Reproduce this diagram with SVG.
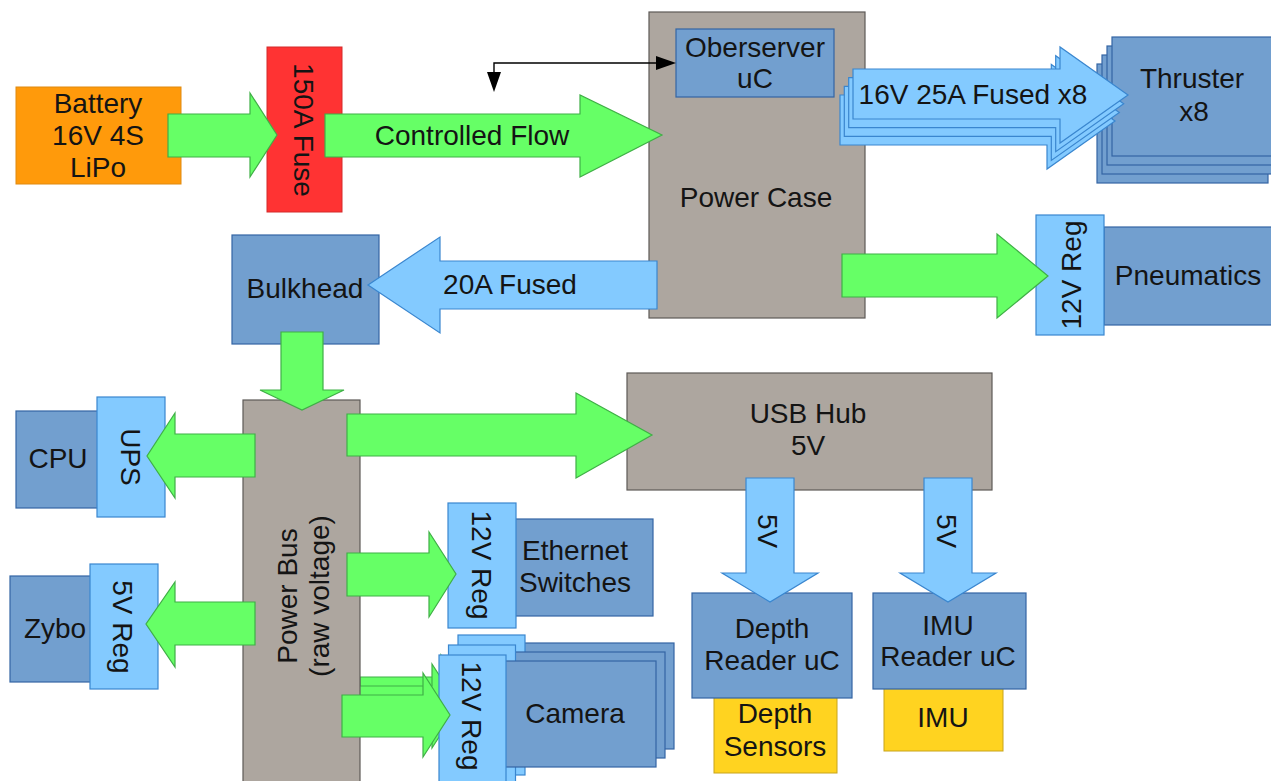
<svg xmlns="http://www.w3.org/2000/svg" width="1271" height="781" viewBox="0 0 1271 781">
<style>
text{font-family:"Liberation Sans",Arial,sans-serif;font-size:28px;fill:#141414;text-anchor:middle}
.db{fill:#729fcf;stroke:#3465a4;stroke-width:1.2}
.lb{fill:#83caff;stroke:#3a86cf;stroke-width:1.2}
.gy{fill:#ada69f;stroke:#5e5a57;stroke-width:1.2}
.gr{fill:#66ff66;stroke:#3faf46;stroke-width:1.2}
.ba{fill:#83caff;stroke:#3a86cf;stroke-width:1.2}
.ye{fill:#ffd320;stroke:#c8a41b;stroke-width:1}
</style>
<defs>
<marker id="ah" viewBox="0 0 20 14" refX="0" refY="7" markerWidth="20" markerHeight="14" markerUnits="userSpaceOnUse" orient="auto-start-reverse"><path d="M0,0 L20,7 L0,14 z" fill="#000"/></marker>
<polygon id="camArrow" points="342,695 423,695 423,673 450,715 423,757 423,737 342,737"/>
<polygon id="thrArrow" points="853,69 1060,69 1060,47 1128,95 1060,143 1060,119 853,119"/>
</defs>
<rect width="1271" height="781" fill="#fff"/>

<g id="connectors-back">
<use href="#camArrow" class="gr" transform="translate(18,-18)"/>
<use href="#camArrow" class="gr" transform="translate(9,-9)"/>
</g>

<g id="battery"><rect x="16" y="87" width="165" height="97" fill="#ff9a0b" stroke="#e08a10" stroke-width="1"/>
<text x="98" y="113">Battery</text><text x="98" y="145">16V 4S</text><text x="98" y="177">LiPo</text></g>

<g id="fuse"><rect x="267" y="47" width="75" height="165" fill="#ff3333" stroke="#d42a2a" stroke-width="1"/>
<text transform="translate(304,130) rotate(90)" y="10">150A Fuse</text></g>

<g id="power-case"><rect x="649" y="12" width="216" height="306" class="gy"/>
<text x="756" y="207">Power Case</text></g>

<g id="observer"><rect x="676" y="29" width="158" height="68" class="db"/>
<text x="755" y="57">Oberserver</text><text x="755" y="88">uC</text></g>

<g id="thruster">
<rect x="1097" y="64" width="171" height="119" class="db"/>
<rect x="1102" y="55" width="171" height="119" class="db"/>
<rect x="1107" y="46" width="171" height="119" class="db"/>
<rect x="1112" y="37" width="171" height="119" class="db"/>
<text x="1192" y="88">Thruster</text><text x="1194" y="121">x8</text></g>

<g id="pneumatics"><rect x="1104" y="227" width="180" height="98" class="db"/>
<text x="1188" y="285">Pneumatics</text></g>
<g id="pneumatics-reg"><rect x="1036" y="215" width="68" height="120" class="lb"/>
<text transform="translate(1071,275) rotate(-90)" y="10">12V Reg</text></g>

<g id="bulkhead"><rect x="232" y="235" width="147" height="109" class="db"/>
<text x="305" y="298">Bulkhead</text></g>

<g id="power-bus"><rect x="243" y="400" width="117" height="390" class="gy"/>
<text transform="translate(303,596) rotate(-90)" y="-6">Power Bus</text>
<text transform="translate(303,596) rotate(-90)" y="26">(raw voltage)</text></g>

<g id="cpu"><rect x="16" y="411" width="86" height="97" class="db"/>
<text x="58" y="468">CPU</text></g>
<g id="ups"><rect x="97" y="397" width="68" height="120" class="lb"/>
<text transform="translate(131,457) rotate(90)" y="10">UPS</text></g>

<g id="zybo"><rect x="10" y="576" width="84" height="106" class="db"/>
<text x="55" y="638">Zybo</text></g>
<g id="zybo-reg"><rect x="90" y="564" width="68" height="125" class="lb"/>
<text transform="translate(123,627) rotate(90)" y="10">5V Reg</text></g>

<g id="usb-hub"><rect x="627" y="373" width="365" height="117" class="gy"/>
<text x="808" y="423">USB Hub</text><text x="808" y="455">5V</text></g>

<g id="ethernet"><rect x="512" y="519" width="141" height="97" class="db"/>
<text x="575" y="560">Ethernet</text><text x="575" y="592">Switches</text></g>
<g id="ethernet-reg"><rect x="448" y="503" width="68" height="125" class="lb"/>
<text transform="translate(482,565) rotate(90)" y="10">12V Reg</text></g>

<g id="camera">
<rect x="518" y="643" width="156" height="106" class="db"/>
<rect x="458" y="635" width="67" height="140" class="lb"/>
<rect x="509" y="652" width="156" height="106" class="db"/>
<rect x="448.5" y="645" width="67" height="140" class="lb"/>
<rect x="500" y="661" width="156" height="106" class="db"/>
<text x="575" y="723">Camera</text>
<rect x="439" y="655" width="67" height="140" class="lb"/>
<text transform="translate(472,716) rotate(90)" y="10">12V Reg</text></g>

<g id="depth-sensors"><rect x="714" y="690" width="123" height="83" class="ye"/>
<text x="775" y="723">Depth</text><text x="775" y="756">Sensors</text></g>
<g id="depth-reader"><rect x="692" y="593" width="160" height="105" class="db"/>
<text x="772" y="638">Depth</text><text x="772" y="670">Reader uC</text></g>

<g id="imu"><rect x="884" y="680" width="119" height="71" class="ye"/>
<text x="943" y="727">IMU</text></g>
<g id="imu-reader"><rect x="873" y="593" width="153" height="96" class="db"/>
<text x="948" y="635">IMU</text><text x="948" y="666">Reader uC</text></g>

<g id="connectors">
<polygon class="gr" points="168,114 250,114 250,93 277,135 250,177 250,157 168,157"/>
<polygon class="gr" points="325,114 580,114 580,95 662,135 580,177 580,157 325,157"/>
<text x="472" y="145">Controlled Flow</text>
<path d="M494,72 V63 H656" fill="none" stroke="#000" stroke-width="1.4" marker-start="url(#ah)" marker-end="url(#ah)"/>
<use href="#thrArrow" class="ba" transform="translate(-13,26)"/>
<use href="#thrArrow" class="ba" transform="translate(-8.7,17.4)"/>
<use href="#thrArrow" class="ba" transform="translate(-4.3,8.7)"/>
<use href="#thrArrow" class="ba"/>
<text x="973" y="104">16V 25A Fused x8</text>
<polygon class="gr" points="842,254 997,254 997,234 1048,276 997,318 997,297 842,297"/>
<polygon class="ba" points="657,261 440,261 440,237 368,285 440,333 440,309 657,309"/>
<text x="510" y="294">20A Fused</text>
<polygon class="gr" points="281,332 323,332 323,390 344,390 302,410 260,390 281,390"/>
<polygon class="gr" points="255,434 175,434 175,413 147,456 175,498 175,477 255,477"/>
<polygon class="gr" points="255,602 175,602 175,582 146,624 175,667 175,645 255,645"/>
<polygon class="gr" points="347,414 576,414 576,393 652,435 576,478 576,456 347,456"/>
<polygon class="gr" points="347,553 429,553 429,532 456,574 429,617 429,596 347,596"/>
<use href="#camArrow" class="gr"/>
<polygon class="ba" points="746,478 794,478 794,573 818,573 770,602 722,573 746,573"/>
<text transform="translate(768,531) rotate(90)" y="10">5V</text>
<polygon class="ba" points="924,478 972,478 972,573 996,573 948,602 900,573 924,573"/>
<text transform="translate(947,531) rotate(90)" y="10">5V</text>
</g>
</svg>
